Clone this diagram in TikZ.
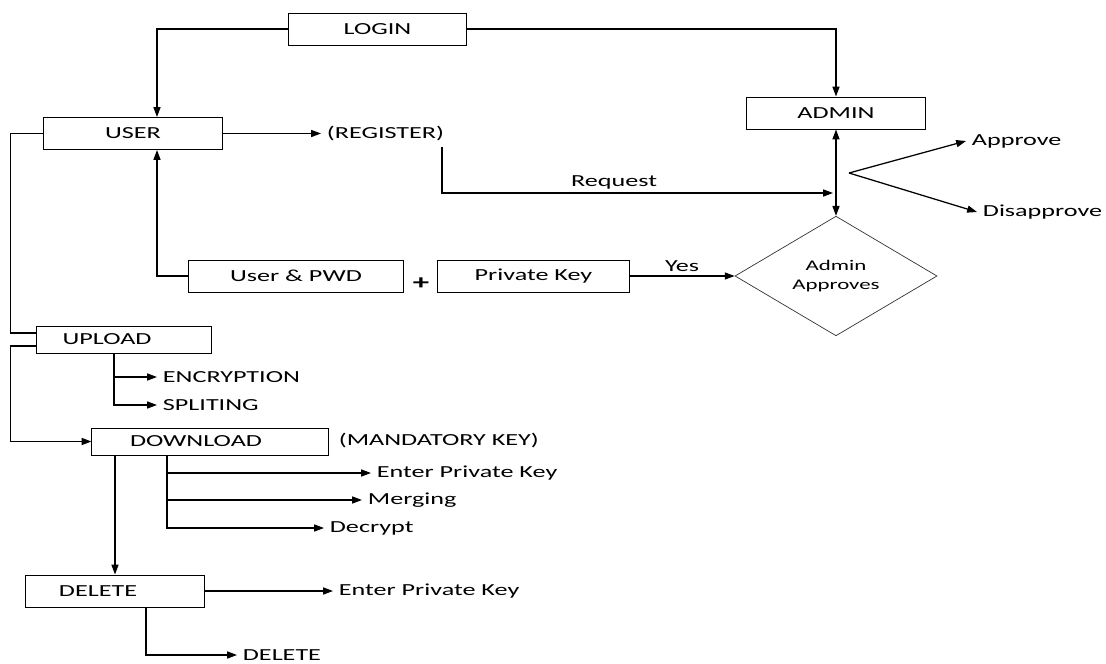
\documentclass[tikz,border=0pt]{standalone}
\usepackage{fontspec}
\setmainfont{Carlito}[FakeStretch=1.55]
\usetikzlibrary{shapes.geometric, arrows.meta, calc}

\begin{document}
\begin{tikzpicture}[x=0.025cm, y=-0.025cm, font=\fontsize{12}{14}\selectfont]
    % Define styles
    \tikzset{
        box/.style={draw, line width=0.7pt, minimum height=0.8cm, inner sep=0pt},
        decision/.style={draw=black!80, diamond, line width=0.5pt, minimum width=5.05cm, minimum height=2.6cm, inner sep=0pt, align=center, font=\fontsize{10.5}{14}\selectfont},
        item/.style={anchor=west, inner sep=4pt},
        link/.style={line width=0.9pt},
        flow/.style={line width=0.9pt, -{Triangle[length=7pt, width=5pt]}},
        both/.style={line width=0.9pt, {Triangle[length=7pt, width=5pt]}-{Triangle[length=7pt, width=5pt]}}
    }

    \useasboundingbox (0,0) rectangle (1106,664);

    % Draw boxes
    \node[box, minimum width=4.425cm] (login) at (377.5,29) {LOGIN};
    \node[box, minimum width=4.45cm] (user) at (133,133.5) {USER};
    \node[box, minimum width=4.45cm] (admin) at (836,113) {ADMIN};
    \node[box, minimum width=5.35cm] (userpwd) at (296,276) {User \& PWD};
    \node (plus) at (421,284) {\fontsize{15}{15}\selectfont\bfseries +};
    \node[box, minimum width=4.775cm] (privkey) at (533.5,276) {Private Key};
    \node[decision] (decide) at (836,276) {Admin\\Approves};
    \node[box, minimum width=4.35cm, minimum height=0.675cm] (upload) at (124,339.5) {UPLOAD\hspace*{0.85cm}};
    \node[box, minimum width=5.9cm, minimum height=0.675cm] (download) at (210,441.5) {DOWNLOAD\hspace*{0.7cm}};
    \node[box, minimum width=4.45cm] (delete) at (115,591) {DELETE\hspace*{0.85cm}};

    % Add plain labels
    \node[item] (register) at (321,133.5) {(REGISTER)};
    \node[item] (approve) at (966,141) {Approve};
    \node[item] (disapprove) at (977,212) {Disapprove};
    \node[item] (mandatory) at (333,440) {(MANDATORY KEY)};
    \node[item] (encryption) at (157,377) {ENCRYPTION};
    \node[item] (spliting) at (157,405) {SPLITING};
    \node[item] (dlkey) at (371,473) {Enter Private Key};
    \node[item] (merging) at (362,500) {Merging};
    \node[item] (decrypt) at (324,528) {Decrypt};
    \node[item] (delkey) at (333,591) {Enter Private Key};
    \node[item] (delfile) at (237,655) {DELETE};

    \coordinate (req) at (833,193);
    \coordinate (fork) at (849,173);

    % Login branches
    \draw[flow] (login.west) -| ($(user.north)+(24,0)$);
    \draw[flow] (login.east) -| (admin.north);

    % Registration and approval
    \draw[flow] (user.east) -- (register.west);
    \draw[flow] ($(register.south east)+(-8,0)$) |- node[pos=0.72, above, inner sep=2pt] (request) {Request} (req);
    \draw[both] (admin.south) -- (decide.north);
    \draw[flow] (fork) -- (approve.west);
    \draw[flow] (fork) -- (disapprove.west);
    \draw[flow] (userpwd.west) -| ($(user.south)+(24,0)$);
    \draw[flow] (privkey) -- node[above, inner sep=3pt] (yes) {Yes} (decide);

    % Upload
    \draw[link] (user.west) -- ++(-33,0) |- ($(upload.west)+(0,-6.5)$);
    \draw[flow] ($(upload.west)+(0,6.5)$) -- ++(-26,0) |- (download.west);
    \coordinate (upstem) at ($(upload.south)+(-10,0)$);
    \draw[flow] (upstem) |- (encryption.west);
    \draw[flow] (upstem) |- (spliting.west);

    % Download
    \coordinate (dlstem) at ($(download.south)+(-43,0)$);
    \foreach \target in {dlkey, merging, decrypt}
        \draw[flow] (dlstem) |- (\target.west);
    \draw[flow] (download.south -| delete.north) -- (delete.north);

    % Delete
    \draw[flow] (delete.east) -- (delkey.west);
    \draw[flow] ($(delete.south)+(31,0)$) |- (delfile.west);

\end{tikzpicture}
\end{document}
